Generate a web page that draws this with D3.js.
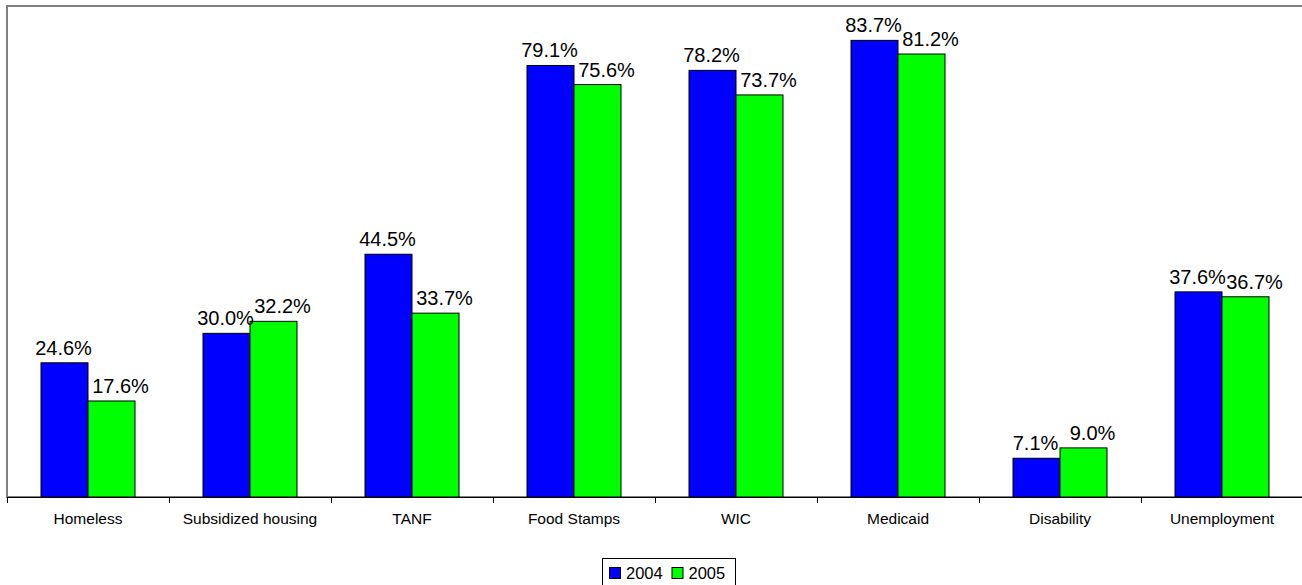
<!DOCTYPE html>
<html>
<head>
<meta charset="utf-8">
<script src="https://cdn.jsdelivr.net/npm/d3@7"></script>
<style>
  body { margin: 0; background: #fff; }
  text { font-family: "Liberation Sans", Arial, sans-serif; }
</style>
</head>
<body>
<div id="chart"></div>
<script>
// data
const categories = ["Homeless", "Subsidized housing", "TANF", "Food Stamps", "WIC", "Medicaid", "Disability", "Unemployment"];
const seriesNames = ["2004", "2005"];
const values2004 = [24.6, 30.0, 44.5, 79.1, 78.2, 83.7, 7.1, 37.6];
const values2005 = [17.6, 32.2, 33.7, 75.6, 73.7, 81.2, 9.0, 36.7];
const colors = ["#0000ff", "#00ff00"];

const width = 1302, height = 585;
const plotLeft = 7, plotTop = 6, plotBottom = 497;

const svg = d3.select("#chart").append("svg")
    .attr("width", width)
    .attr("height", height);

const x0 = d3.scaleBand()
    .domain(categories)
    .range([plotLeft, plotLeft + 8 * 162]);

const x1 = d3.scaleBand()
    .domain(seriesNames)
    .range([34, 128]);

const y = d3.scaleLinear()
    .domain([0, 90])
    .range([plotBottom, plotTop]);

// plot area border (grey)
svg.append("rect")
    .attr("x", plotLeft)
    .attr("y", plotTop)
    .attr("width", x0.range()[1] - plotLeft)
    .attr("height", plotBottom - plotTop)
    .attr("fill", "none")
    .attr("stroke", "#808080")
    .attr("stroke-width", 2);

const rows = categories.map((c, i) => ({
    cat: c,
    vals: [values2004[i], values2005[i]]
}));

const groups = svg.selectAll("g.group")
    .data(rows)
    .join("g")
    .attr("class", "group")
    .attr("transform", d => `translate(${x0(d.cat)},0)`);

groups.selectAll("rect")
    .data(d => d.vals.map((v, j) => ({ s: seriesNames[j], v: v, j: j })))
    .join("rect")
    .attr("x", d => x1(d.s))
    .attr("y", d => y(d.v))
    .attr("width", x1.bandwidth())
    .attr("height", d => plotBottom - y(d.v))
    .attr("fill", d => colors[d.j])
    .attr("stroke", "#000")
    .attr("stroke-width", 1);

// value labels (2005 ones sit a bit to the right, as in the original)
groups.selectAll("text.val")
    .data(d => d.vals.map((v, j) => ({ s: seriesNames[j], v: v, j: j })))
    .join("text")
    .attr("class", "val")
    .attr("x", d => x1(d.s) + x1.bandwidth() / 2 + (d.j === 1 ? 9 : -1))
    .attr("y", d => y(d.v) - 8)
    .attr("text-anchor", "middle")
    .attr("font-size", 20)
    .attr("fill", "#000")
    .text(d => d.v.toFixed(1) + "%");

// baseline + category axis
const xAxis = svg.append("g")
    .attr("transform", `translate(0,${plotBottom})`)
    .call(d3.axisBottom(x0).tickSize(0).tickPadding(0));
xAxis.select(".domain").remove();
xAxis.selectAll("text")
    .attr("y", 27)
    .attr("dy", 0)
    .attr("font-size", 15.5)
    .attr("font-family", "'Liberation Sans', Arial, sans-serif")
    .attr("fill", "#000");

svg.append("line")
    .attr("x1", plotLeft)
    .attr("x2", width)
    .attr("y1", plotBottom + 0.5)
    .attr("y2", plotBottom + 0.5)
    .attr("stroke", "#000");

svg.selectAll("line.tick")
    .data(d3.range(categories.length + 1))
    .join("line")
    .attr("class", "tick")
    .attr("x1", i => plotLeft + i * x0.step() + 0.5)
    .attr("x2", i => plotLeft + i * x0.step() + 0.5)
    .attr("y1", plotBottom)
    .attr("y2", plotBottom + 6)
    .attr("stroke", "#000");

// legend
const legend = svg.append("g");
legend.append("rect")
    .attr("x", 602.5)
    .attr("y", 558.5)
    .attr("width", 133)
    .attr("height", 40)
    .attr("fill", "#fff")
    .attr("stroke", "#000");

const legX = [609, 671.5];
seriesNames.forEach((s, j) => {
    legend.append("rect")
        .attr("x", legX[j] + 0.5)
        .attr("y", 567.5)
        .attr("width", 11)
        .attr("height", 11)
        .attr("fill", colors[j])
        .attr("stroke", "#000");
    legend.append("text")
        .attr("x", legX[j] + 17)
        .attr("y", 579)
        .attr("font-size", 16.5)
        .text(s);
});
</script>
</body>
</html>
